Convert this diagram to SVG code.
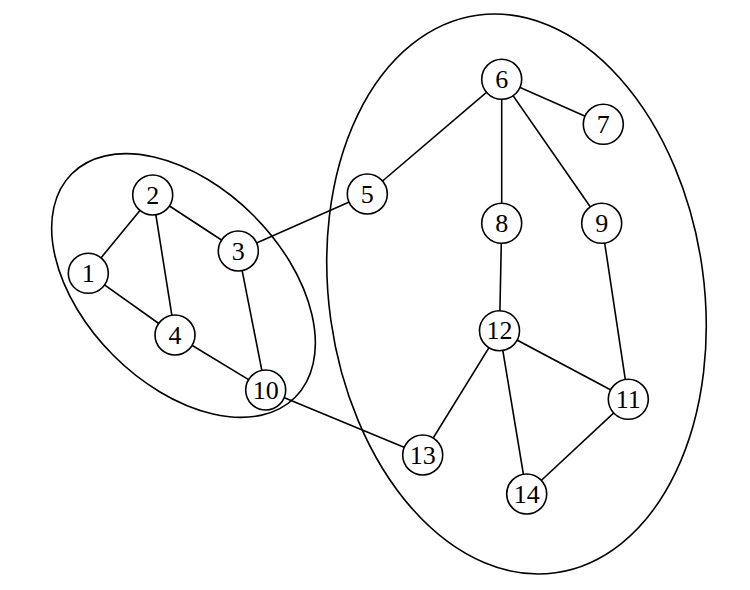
<svg xmlns="http://www.w3.org/2000/svg" width="750" height="590" viewBox="0 0 750 590">
<style>
.n circle{fill:#fff;stroke:#000;stroke-width:1.6}
.n text{font-family:"Liberation Serif","Times New Roman",serif;font-size:26px;text-anchor:middle;dominant-baseline:central;fill:#000}
.e line{stroke:#000;stroke-width:1.6}
.g{fill:none;stroke:#000;stroke-width:1.6}
</style>
<rect width="750" height="590" fill="#fff"/>
<g id="groups">
<ellipse class="g" cx="183.5" cy="285.5" rx="158" ry="99" transform="rotate(45 183.5 285.5)"/>
<ellipse class="g" cx="516.5" cy="294" rx="187.5" ry="281.5" transform="rotate(-8 516.5 294)"/>
</g>
<g id="edges" class="e">
<line x1="88.3" y1="273.3" x2="152.7" y2="195"/>
<line x1="152.7" y1="195" x2="238.3" y2="251"/>
<line x1="152.7" y1="195" x2="175" y2="335"/>
<line x1="88.3" y1="273.3" x2="175" y2="335"/>
<line x1="238.3" y1="251" x2="265.7" y2="390"/>
<line x1="175" y1="335" x2="265.7" y2="390"/>
<line x1="238.3" y1="251" x2="367.3" y2="194"/>
<line x1="265.7" y1="390" x2="422.7" y2="455"/>
<line x1="367.3" y1="194" x2="501.7" y2="79.3"/>
<line x1="501.7" y1="79.3" x2="603.3" y2="124.3"/>
<line x1="501.7" y1="79.3" x2="501.7" y2="223.3"/>
<line x1="501.7" y1="79.3" x2="601.7" y2="223.3"/>
<line x1="501.7" y1="223.3" x2="499.5" y2="330.7"/>
<line x1="601.7" y1="223.3" x2="628.3" y2="399.3"/>
<line x1="499.5" y1="330.7" x2="628.3" y2="399.3"/>
<line x1="499.5" y1="330.7" x2="422.7" y2="455"/>
<line x1="499.5" y1="330.7" x2="526.7" y2="494"/>
<line x1="628.3" y1="399.3" x2="526.7" y2="494"/>
</g>
<g id="n1" class="n"><circle cx="88.3" cy="273.3" r="20"/><text x="88.3" y="273.3">1</text></g>
<g id="n2" class="n"><circle cx="152.7" cy="195" r="20"/><text x="152.7" y="195">2</text></g>
<g id="n3" class="n"><circle cx="238.3" cy="251" r="20"/><text x="238.3" y="251">3</text></g>
<g id="n4" class="n"><circle cx="175" cy="335" r="20"/><text x="175" y="335">4</text></g>
<g id="n10" class="n"><circle cx="265.7" cy="390" r="20"/><text x="265.7" y="390">10</text></g>
<g id="n5" class="n"><circle cx="367.3" cy="194" r="20"/><text x="367.3" y="194">5</text></g>
<g id="n6" class="n"><circle cx="501.7" cy="79.3" r="20"/><text x="501.7" y="79.3">6</text></g>
<g id="n7" class="n"><circle cx="603.3" cy="124.3" r="20"/><text x="603.3" y="124.3">7</text></g>
<g id="n8" class="n"><circle cx="501.7" cy="223.3" r="20"/><text x="501.7" y="223.3">8</text></g>
<g id="n9" class="n"><circle cx="601.7" cy="223.3" r="20"/><text x="601.7" y="223.3">9</text></g>
<g id="n12" class="n"><circle cx="499.5" cy="330.7" r="20"/><text x="499.5" y="330.7">12</text></g>
<g id="n11" class="n"><circle cx="628.3" cy="399.3" r="20"/><text x="628.3" y="399.3">11</text></g>
<g id="n13" class="n"><circle cx="422.7" cy="455" r="20"/><text x="422.7" y="455">13</text></g>
<g id="n14" class="n"><circle cx="526.7" cy="494" r="20"/><text x="526.7" y="494">14</text></g>
</svg>
